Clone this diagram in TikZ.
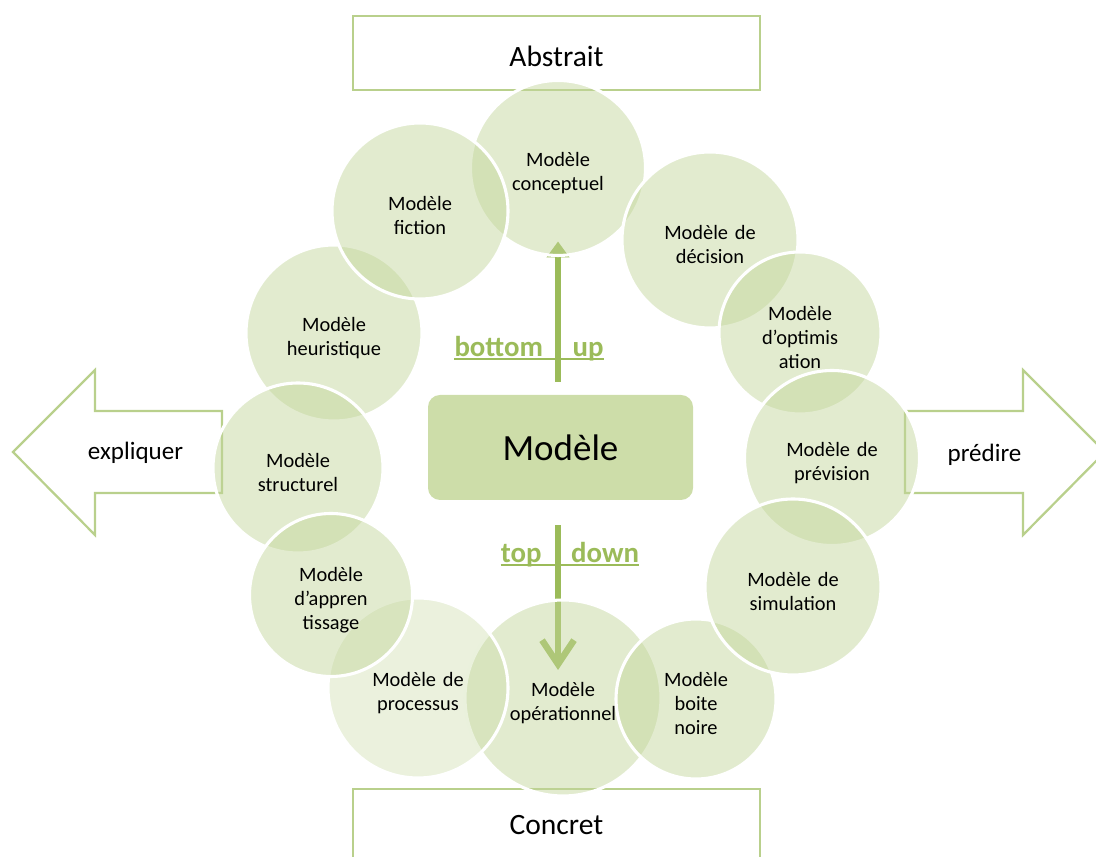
\documentclass[tikz,border=0pt]{standalone}
\usepackage{fontspec}
\setmainfont{Carlito}
\usetikzlibrary{arrows.meta}

\definecolor{accentgreen}{HTML}{9BBB59}
\definecolor{bubblegreen}{HTML}{C3D69B}
\definecolor{outlinegreen}{HTML}{B9D08C}
\definecolor{modelegreen}{HTML}{CDDDA9}

\pgfdeclarelayer{background}
\pgfsetlayers{background,main}

\tikzset{
  bubble/.style={circle, draw=white, line width=2.2pt, fill=bubblegreen, fill opacity=0.48,
    text opacity=1, inner sep=0pt, text width=3.2cm, align=center,
    font=\fontsize{14.5}{17}\selectfont, execute at begin node={\rule{0pt}{17pt}}},
  levelbox/.style={draw=outlinegreen, line width=1.6pt, fill=white, minimum width=10.175cm,
    font=\fontsize{21}{25}\selectfont},
  sidearrow/.style={draw=outlinegreen, line width=1.6pt, fill=white, line join=miter},
  sidetext/.style={font=\fontsize{17.8}{21}\selectfont, anchor=base},
  modelebox/.style={fill=modelegreen, rounded corners=0.3cm, minimum width=6.625cm,
    minimum height=2.625cm, font=\fontsize{26.3}{30}\selectfont},
  flowarrow/.style={draw=accentgreen, line width=4.6pt},
  flowlabel/.style={text=accentgreen, font=\fontsize{20.5}{24}\selectfont\bfseries,
    inner sep=0pt, anchor=base},
  flowline/.style={draw=accentgreen, line width=1.4pt}
}

\begin{document}
\begin{tikzpicture}
\clip (0,0) rectangle (27.4,21.425);

% Abstrait / Concret
\node[levelbox, minimum height=1.85cm, text height=19pt, text depth=0pt] (abstrait) at (13.9125,20.1) {Abstrait};
\node[levelbox, minimum height=1.82cm] (concret) at (13.9125,0.79) {Concret};

% expliquer / predire
\draw[sidearrow] (5.55,11.15) -- (2.375,11.15) -- (2.375,12.175) -- (0.325,10.125)
  -- (2.375,8.05) -- (2.375,9.1) -- (5.55,9.1) -- cycle;
\node[sidetext] (expliquer) at (3.3875,9.925) {expliquer};
\draw[sidearrow] (22.625,11.15) -- (25.575,11.15) -- (25.575,12.175) -- (27.625,10.125)
  -- (25.575,8.05) -- (25.575,9.1) -- (22.625,9.1) -- cycle;
\node[sidetext] (predire) at (24.6125,9.88) {prédire};

% circles, back to front
\node[bubble, minimum size=4.375cm] (conceptuel) at (13.95,17.225) {Modèle\\conceptuel};
\node[bubble, minimum size=4.4cm] (decision) at (17.75,15.425) {Modèle de\\décision};
\node[bubble, minimum size=4.05cm] (optim) at (20.0,13.1) {Modèle\\d’optimis\\ation};
\node[bubble, minimum size=4.375cm] (prevision) at (20.8,9.975) {Modèle de\\prévision};
\node[bubble, minimum size=4.9cm] (operationnel) at (14.075,3.975) {Modèle\\opérationnel};
\node[bubble, minimum size=4.0cm] (boite) at (17.4,3.95) {Modèle\\boite\\noire};
\node[bubble, minimum size=4.4cm] (simulation) at (19.825,6.75) {Modèle de\\simulation};
\node[bubble, minimum size=4.5cm, fill opacity=0.34] (processus) at (10.45,4.225) {Modèle de\\processus};
\node[bubble, minimum size=4.4cm] (heuristique) at (8.35,13.1) {Modèle\\heuristique};
\node[bubble, minimum size=4.25cm] (structurel) at (7.45,9.725) {Modèle\\structurel};
\node[bubble, minimum size=4.075cm] (apprent) at (8.275,6.55) {Modèle\\d’appren\\tissage};
\node[bubble, minimum size=4.4cm] (fiction) at (10.5,16.15) {Modèle\\fiction};

% centre
\node[modelebox] (modele) at (14.0125,10.2375) {Modèle};

% bottom up / top down
\begin{pgfonlayer}{background}
\draw[flowarrow, -{Triangle[length=0.4cm,width=0.55cm]}, shorten <=0.325cm, shorten >=-0.39cm]
  (conceptuel.south |- modele.north) -- (conceptuel.south);
\draw[flowarrow, -{Straight Barb[length=0.6cm,width=0.8cm]}, shorten <=0.625cm, shorten >=0.7cm]
  (conceptuel.south |- modele.south) -- (conceptuel.south |- operationnel.center);
\end{pgfonlayer}
\node[flowlabel] (bottomup) at (13.225,12.5) {bottom\hspace{21pt}up};
\draw[flowline] ([yshift=-0.05cm]bottomup.base west) -- ([yshift=-0.05cm]bottomup.base east);
\node[flowlabel] (topdown) at (14.25,7.35) {top\hspace{21pt}down};
\draw[flowline] ([yshift=-0.05cm]topdown.base west) -- ([yshift=-0.05cm]topdown.base east);
\end{tikzpicture}
\end{document}
